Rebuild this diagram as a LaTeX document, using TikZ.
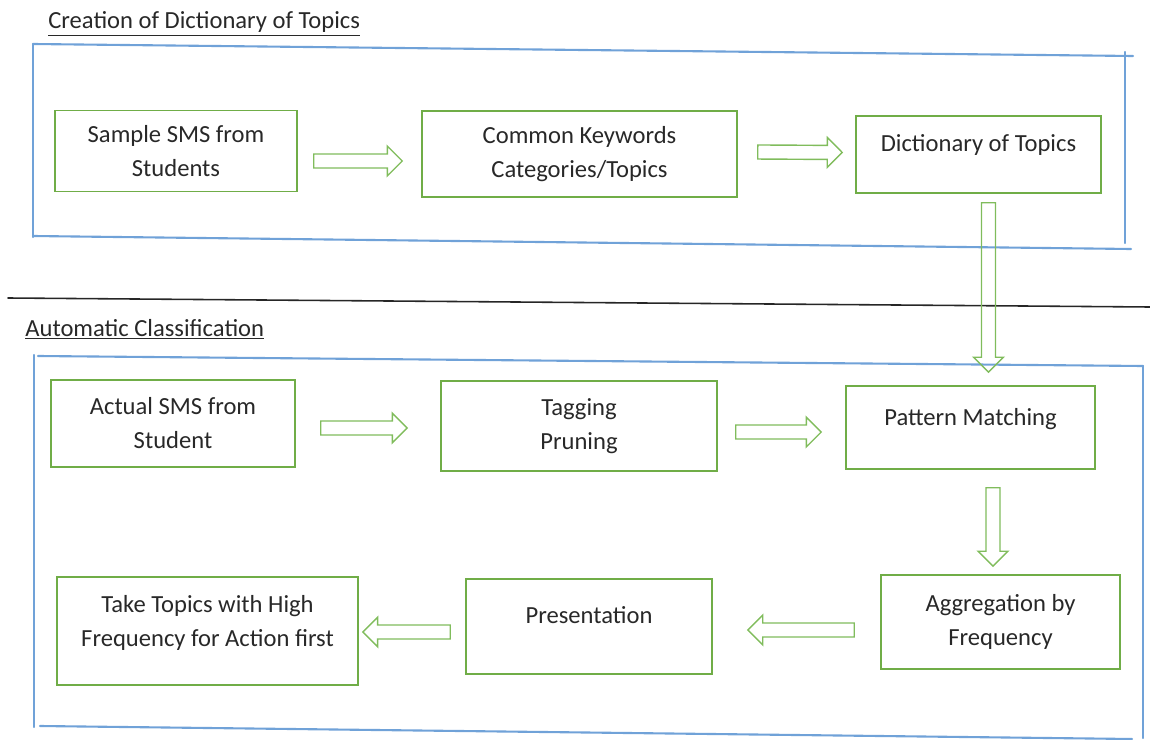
\documentclass[tikz,border=0pt]{standalone}
\usepackage{fontspec}
\setmainfont{Carlito}
\usepackage{xcolor}
\usepackage{tkz-euclide}
\usetikzlibrary{calc,positioning}
\definecolor{boxgreen}{RGB}{112,173,71}
\definecolor{arrgreen}{RGB}{128,188,92}
\definecolor{frameblue}{RGB}{112,162,216}
\definecolor{txtgray}{RGB}{40,40,40}
\tikzset{
  stage/.style={draw=boxgreen,line width=0.9pt,align=center,text=txtgray,
    font=\fontsize{14}{19.4}\selectfont,inner sep=2pt},
  lift/.style={text depth=#1},
  ttl/.style={anchor=base west,text=txtgray,font=\fontsize{14}{18.7}\selectfont,inner sep=0pt},
  blueline/.style={draw=frameblue,line width=1.2pt},
  blockarr/.style={draw=arrgreen,line width=0.8pt,line join=miter,
    to path={($(\tikztotarget)!8.5pt!(\tikztostart)$) coordinate (hb)
      ($(\tikztostart)!4pt!90:(\tikztotarget)$) -- ($(hb)!4pt!90:(\tikztotarget)$)
      -- ($(hb)!8.5pt!90:(\tikztotarget)$) -- (\tikztotarget)
      -- ($(hb)!8.5pt!-90:(\tikztotarget)$) -- ($(hb)!4pt!-90:(\tikztotarget)$)
      -- ($(\tikztostart)!4pt!-90:(\tikztotarget)$) -- cycle}}
}
\begin{document}
\begin{tikzpicture}[x=0.02cm,y=-0.02cm]
\useasboundingbox (0,0) rectangle (1150,740);
\tkzDefPoint(33,44){A}
\tkzDefPoint(1133,56){B}
\tkzDefPoint(1125,52){C}
\tkzDefPoint(1125,243){D}
\tkzDefPoint(33,236){E}
\tkzDefPoint(1131,249){F}
\tkzDefPoint(33,237){G}
\tkzDrawSegments[blueline](A,B C,D E,F A,G)
\tkzDefPoint(8,298){H}
\tkzDefPoint(1150,307){I}
\tkzDrawSegment[black!85,line width=0.9pt](H,I)
\tkzDefPoint(38,356){J}
\tkzDefPoint(1143,366){K}
\tkzDefPoint(34,355){L}
\tkzDefPoint(34,727){M}
\tkzDefPoint(40,726){N}
\tkzDefPoint(1132,739){P}
\tkzDefPoint(1143,738){Q}
\tkzDrawSegments[blueline](J,K L,M N,P K,Q)
\node[ttl] (ttlA) at (48,29) {\underline{Creation of Dictionary of Topics}};
\node[ttl] (ttlB) at (25,336) {\underline{Automatic Classification}};
\node[stage,minimum width=4.84cm,minimum height=1.62cm] (samp) at (176,151) {Sample SMS from\\Students};
\node[stage,minimum width=6.3cm,minimum height=1.72cm] (keyw) at (579.5,154) {Common Keywords\\Categories/Topics};
\node[stage,lift=13.6pt,minimum width=4.9cm,minimum height=1.54cm] (dict) at (978.5,154.5) {Dictionary of Topics};
\node[stage,minimum width=4.88cm,minimum height=1.74cm] (actual) at (173,423.5) {Actual SMS from\\Student};
\node[stage,minimum width=5.52cm,minimum height=1.8cm] (tagp) at (579,426) {Tagging\\Pruning};
\node[stage,lift=12.5pt,minimum width=4.98cm,minimum height=1.66cm] (patt) at (970.5,427.5) {Pattern Matching};
\node[stage,minimum width=4.78cm,minimum height=1.88cm] (aggr) at (1000.5,622) {Aggregation by\\Frequency};
\node[stage,lift=13.6pt,minimum width=4.92cm,minimum height=1.9cm] (pres) at (589,626.5) {Presentation};
\node[stage,lift=11.3pt,minimum width=6.02cm,minimum height=2.16cm] (take) at (207.5,631) {Take Topics with High\\Frequency for Action first};
\coordinate (a1s) at ($(samp.east)+(16,10)$);
\coordinate (a1e) at ($(keyw.west)+(-19,7)$);
\coordinate (a2s) at ($(keyw.east)+(20,-2)$);
\coordinate (a2e) at ($(dict.west)+(-13,-2)$);
\coordinate (a3s) at ($(dict.south)+(10,9)$);
\coordinate (a3e) at ($(patt.north)+(18,-13)$);
\coordinate (a4s) at ($(actual.east)+(25,4.5)$);
\coordinate (a4e) at ($(tagp.west)+(-33,2)$);
\coordinate (a5s) at ($(tagp.east)+(18,6)$);
\coordinate (a5e) at ($(patt.west)+(-24,4.5)$);
\coordinate (a6s) at ($(patt.south)+(22.5,18)$);
\coordinate (a6e) at ($(aggr.north)+(-7.5,-8)$);
\coordinate (a7s) at ($(aggr.west)+(-26,8)$);
\coordinate (a7e) at ($(pres.east)+(35,3.5)$);
\coordinate (a8s) at ($(pres.west)+(-15,5.5)$);
\coordinate (a8e) at ($(take.east)+(4,1)$);
\draw[blockarr] (a1s) to (a1e);
\draw[blockarr] (a2s) to (a2e);
\draw[blockarr] (a3s) to (a3e);
\draw[blockarr] (a4s) to (a4e);
\draw[blockarr] (a5s) to (a5e);
\draw[blockarr] (a6s) to (a6e);
\draw[blockarr] (a7s) to (a7e);
\draw[blockarr] (a8s) to (a8e);
\end{tikzpicture}
\end{document}
